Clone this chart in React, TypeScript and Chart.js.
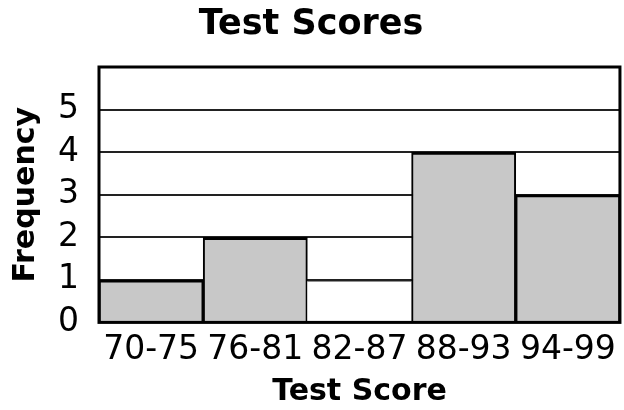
import React, { useEffect, useRef } from "react";
import { Chart, registerables } from "chart.js";

Chart.register(...registerables);

const categories = ["70-75", "76-81", "82-87", "88-93", "94-99"];
const frequencies = [1, 2, 1, 4, 3];
const barFills = ["#c8c8c8", "#c8c8c8", "#ffffff", "#c8c8c8", "#c8c8c8"];
const chartTitle = "Test Scores";
const xTitle = "Test Score";
const yTitle = "Frequency";
const yMax = 6;

const frame = {
  id: "frame",
  afterDatasetsDraw(chart: any) {
    const { ctx, chartArea } = chart;
    ctx.save();
    ctx.strokeStyle = "#000";
    ctx.lineWidth = 3;
    ctx.strokeRect(chartArea.left, chartArea.top, chartArea.right - chartArea.left, chartArea.bottom - chartArea.top);
    ctx.restore();
  },
};

export default function App() {
  const ref = useRef<HTMLCanvasElement | null>(null);
  useEffect(() => {
    document.body.style.margin = "0";
    const font = "'DejaVu Sans', Verdana, sans-serif";
    const chart = new Chart(ref.current as HTMLCanvasElement, {
      type: "bar",
      data: {
        labels: categories,
        datasets: [
          {
            data: frequencies,
            backgroundColor: barFills,
            borderColor: (c: any) => (c.dataIndex === 2 ? "#222" : "#000"),
            borderWidth: (c: any) =>
              c.dataIndex === 2
                ? { top: 2, left: 0, right: 0, bottom: 0 }
                : { top: 3, left: 2, right: 2, bottom: 0 },
            categoryPercentage: 1,
            barPercentage: 1,
          },
        ],
      },
      plugins: [frame],
      options: {
        responsive: false,
        animation: false,
        layout: { padding: { top: 4, left: 0, right: 2, bottom: 0 } },
        plugins: {
          legend: { display: false },
          tooltip: { enabled: false },
          title: {
            display: true,
            text: chartTitle,
            color: "#000",
            font: { family: font, size: 35, weight: "bold" },
            padding: { top: 0, bottom: 21 },
          },
        },
        scales: {
          x: {
            grid: { display: false, drawTicks: false },
            border: { display: false },
            ticks: { color: "#000", font: { family: font, size: 33 }, padding: 8, maxRotation: 0, autoSkip: false },
            title: {
              display: true,
              text: xTitle,
              color: "#000",
              font: { family: font, size: 30, weight: "bold" },
              padding: { top: -4, bottom: 0 },
            },
          },
          y: {
            min: 0,
            max: yMax,
            grid: { color: "#222", lineWidth: 2, drawTicks: false },
            border: { display: false },
            ticks: {
              stepSize: 1,
              autoSkip: false,
              color: "#000",
              font: { family: font, size: 33 },
              padding: 20,
              callback: (v: any) => (v === yMax ? "" : String(v)),
            },
            title: {
              display: true,
              text: yTitle,
              color: "#000",
              font: { family: font, size: 30, weight: "bold" },
              padding: { top: 8, bottom: -6 },
            },
          },
        },
      },
    } as any);
    return () => chart.destroy();
  }, []);
  return (
    <div style={{ width: 624, height: 410 }}>
      <canvas ref={ref} width={624} height={410} />
    </div>
  );
}
